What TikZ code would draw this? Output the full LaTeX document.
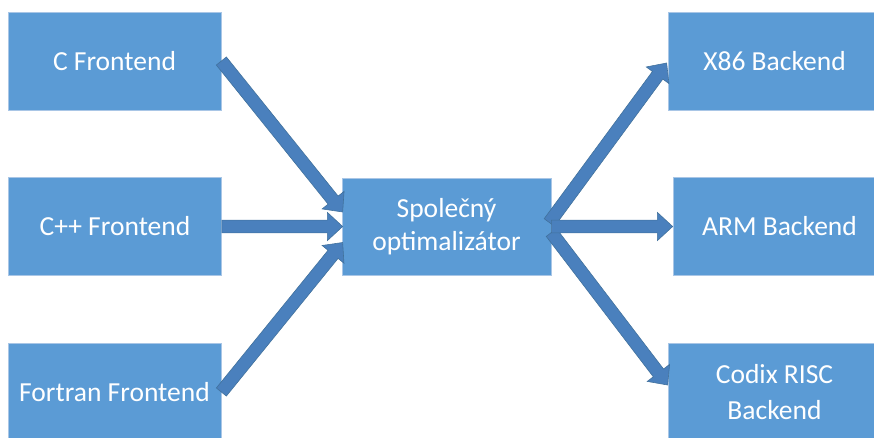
\documentclass[tikz,border=0pt]{standalone}
\usepackage{fontspec}
\setmainfont{Carlito}
\usetikzlibrary{calc}
\definecolor{boxblue}{HTML}{5B9BD5}
\definecolor{boxedge}{HTML}{A9C6E6}
\definecolor{arrowblue}{HTML}{4A80BD}
\definecolor{arrowedge}{HTML}{41719C}
% fat block arrow from #1 to #2
\newcommand{\fatarrow}[2]{%
\path (#1) coordinate (fa-s) (#2) coordinate (fa-t);
\coordinate (fa-h) at ($(fa-t)!13pt!(fa-s)$);
\filldraw[fatline] ($(fa-s)!5.5pt!90:(fa-t)$) -- ($(fa-h)!5.5pt!-90:(fa-s)$) -- ($(fa-h)!12pt!-90:(fa-s)$) -- (fa-t) -- ($(fa-h)!12pt!90:(fa-s)$) -- ($(fa-h)!5.5pt!90:(fa-s)$) -- ($(fa-s)!5.5pt!-90:(fa-t)$) -- cycle;}
\begin{document}
\begin{tikzpicture}[x=0.03cm, y=-0.03cm,
  stage/.style={rectangle, fill=boxblue, draw=boxedge, line width=0.6pt, text=white, inner sep=0pt,
    minimum width=6.39cm, minimum height=2.94cm, align=center, font=\fontsize{23.5}{30}\selectfont},
  fatline/.style={fill=arrowblue, draw=arrowedge, line width=0.5pt, line join=miter}]
\useasboundingbox (0,0) rectangle (874,437);
\node[stage] (cfe) at (114.5,61) {C Frontend};
\node[stage] (cppfe) at (115,226.5) {C++ Frontend};
\node[stage] (ffe) at (114.5,392) {Fortran Frontend};
\node[stage, minimum width=6.27cm, minimum height=2.91cm, font=\fontsize{23.5}{28}\selectfont] (opt) at (446.5,226.5) {Společný\\optimalizátor};
\node[stage] (x86) at (774.5,61) {X86 Backend};
\node[stage] (arm) at (779.5,226.5) {ARM Backend};
\node[stage, text depth=-6pt] (codix) at (774.5,392) {Codix RISC\\Backend};
% frontends into the optimizer
\fatarrow{cfe.east}{$(opt.west)+(1,-14.5)$}
\fatarrow{cppfe.east}{$(opt.west)+(1,0)$}
\fatarrow{ffe.east}{$(opt.west)+(1,16)$}
% optimizer out to the backends
\fatarrow{$(opt.east)+(-2,-4)$}{$(x86.west)+(-1,2)$}
\fatarrow{$(opt.east)+(0,6)$}{$(codix.west)+(0,-7)$}
\fatarrow{opt.east}{arm.west}
\end{tikzpicture}
\end{document}
